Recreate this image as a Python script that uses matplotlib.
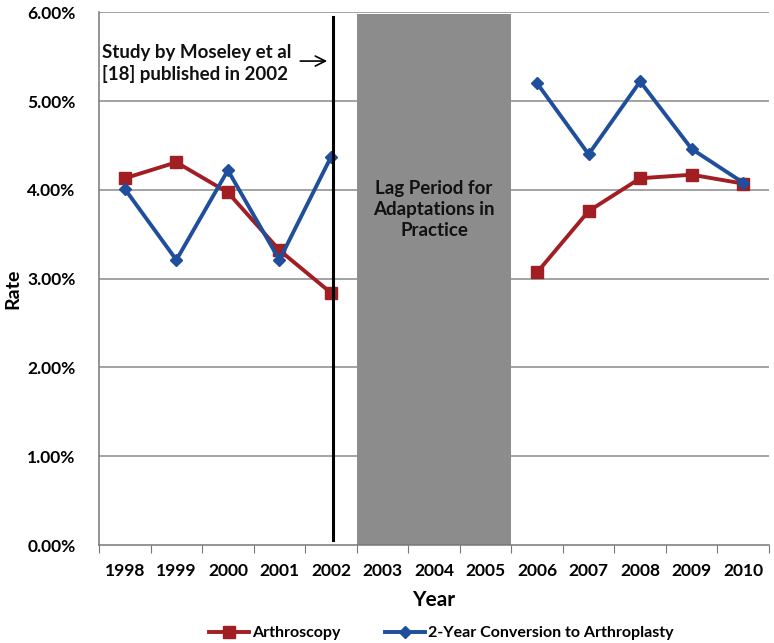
import matplotlib
matplotlib.use("Agg")
import matplotlib.pyplot as plt
import numpy as np
from matplotlib.ticker import FuncFormatter, FixedLocator

years = ["1998", "1999", "2000", "2001", "2002", "2003", "2004", "2005",
         "2006", "2007", "2008", "2009", "2010"]
arthroscopy = [4.13, 4.31, 3.97, 3.32, 2.84, None, None, None, 3.07, 3.76, 4.13, 4.17, 4.07]
conversion = [4.01, 3.21, 4.22, 3.21, 4.37, None, None, None, 5.20, 4.40, 5.22, 4.46, 4.08]
y_ticks = [0, 1, 2, 3, 4, 5, 6]

plt.rcParams['font.family'] = ['Lato', 'DejaVu Sans']

fig = plt.figure(figsize=(7.74, 6.43), dpi=100)
ax = fig.add_axes([0.128, 0.1524, 0.8655, 0.8286])

x = np.arange(len(years))
a = np.array([np.nan if v is None else v for v in arthroscopy], dtype=float)
c = np.array([np.nan if v is None else v for v in conversion], dtype=float)

red = "#A11F22"
blue = "#1F4E9B"

# lag period
ax.axvspan(4.5, 7.5, ymin=0, ymax=0.997, color="#8C8C8C", zorder=1, lw=0)
ax.text(6, 3.78, "Lag Period for\nAdaptations in\nPractice", ha="center", va="center",
        fontsize=13.5, fontweight="bold", color="#111111", zorder=3, linespacing=1.3)

# grid
for t in y_ticks[1:]:
    ax.axhline(t, color="#8A8A8A", lw=1.1, zorder=0.5)

ax.plot(x, a, color=red, lw=2.8, marker="s", ms=9, zorder=4, label="Arthroscopy")
ax.plot(x, c, color=blue, lw=2.8, marker="D", ms=6.5, zorder=5,
        label="2-Year Conversion to Arthroplasty")

# vertical line for study
ax.plot([4.03, 4.03], [0.06, 5.95], color="black", lw=2.2, zorder=6)
ax.annotate("", xy=(3.98, 5.45), xytext=(3.35, 5.45),
            arrowprops=dict(arrowstyle="->", color="black", lw=1.2, mutation_scale=18), zorder=7)
ax.text(-0.45, 5.42, "Study by Moseley et al\n[18] published in 2002", ha="left", va="center",
        fontsize=13.5, fontweight="bold", color="#111111", linespacing=1.3, zorder=7)

ax.set_xlim(-0.5, len(years) - 0.5)
ax.set_ylim(0, 6)
ax.set_yticks(y_ticks)
ax.yaxis.set_major_formatter(FuncFormatter(lambda v, p: f"{v:.2f}%"))
ax.tick_params(axis="y", length=0, labelsize=12.5, pad=17)
for lbl in ax.get_yticklabels():
    lbl.set_fontweight("bold")

ax.xaxis.set_major_locator(FixedLocator(np.arange(-0.5, len(years), 1.0)))
ax.xaxis.set_major_formatter(FuncFormatter(lambda v, p: ""))
ax.xaxis.set_minor_locator(FixedLocator(x))
ax.set_xticks(x, minor=True)
ax.set_xticklabels(years, minor=True, fontweight="bold", fontsize=12.5)
ax.tick_params(axis="x", which="major", length=6, color="#777777", direction="out")
ax.tick_params(axis="x", which="minor", length=0, pad=13)

for s in ["top", "right"]:
    ax.spines[s].set_visible(False)
ax.spines["left"].set_color("#777777")
ax.spines["bottom"].set_color("#777777")
ax.spines["left"].set_linewidth(1.1)
ax.spines["bottom"].set_linewidth(1.1)

ylab = ax.set_ylabel("Rate", fontsize=14, fontweight="bold", va="center")
ax.yaxis.set_label_coords(-0.128, 0.48)
ax.set_xlabel("Year", fontsize=15, fontweight="bold", labelpad=8)

fig.legend(loc="lower center", bbox_to_anchor=(0.57, -0.018), ncol=2, frameon=False,
           prop={"weight": "bold", "size": 11.5}, handlelength=2.5,
           columnspacing=2.8, handletextpad=0.2)

fig.savefig("out.png", dpi=100)
